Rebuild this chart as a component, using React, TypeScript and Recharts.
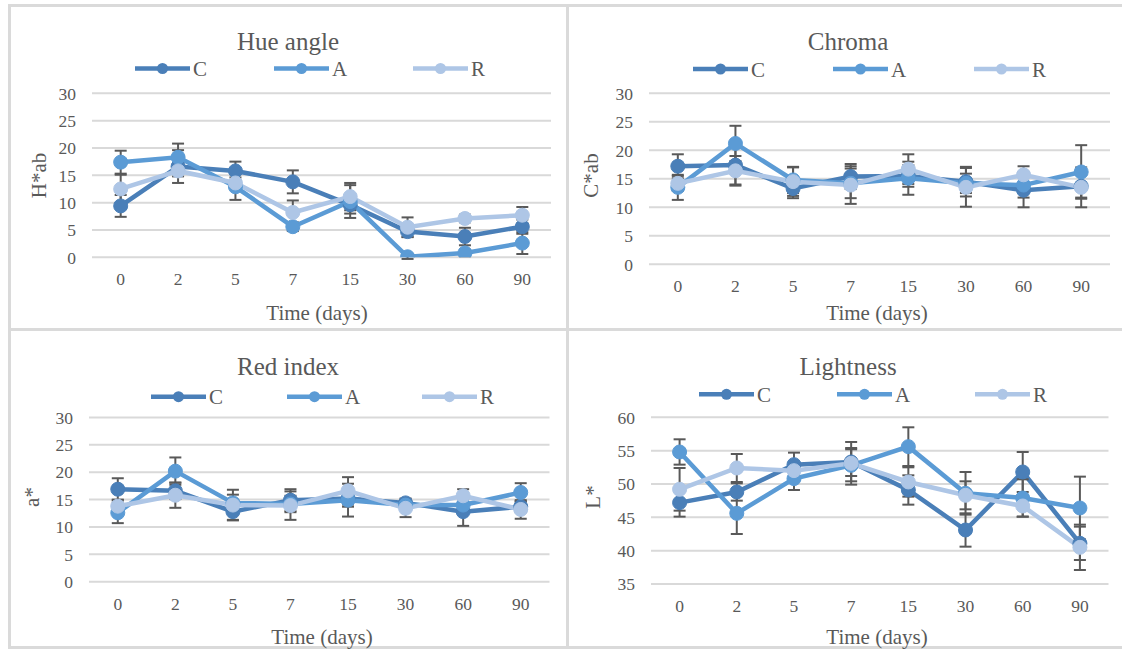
import { LineChart, Line, XAxis, YAxis, CartesianGrid, ErrorBar } from "recharts";

// sampling days
const days = ["0", "2", "5", "7", "15", "30", "60", "90"];

// Hue angle (H*ab)
const hueC = [9.4, 16.6, 15.8, 13.8, 9.6, 4.7, 3.8, 5.6];
const hueA = [17.4, 18.3, 12.9, 5.6, 10.2, 0.1, 0.8, 2.6];
const hueR = [12.5, 15.8, 13.6, 8.2, 11.1, 5.5, 7.1, 7.7];
const hueCErr = [2.0, 3.0, 1.7, 2.1, 1.6, 1.0, 1.6, 1.3];
const hueAErr = [2.1, 2.5, 2.4, 0.8, 3.0, 0.4, 0.6, 2.0];
const hueRErr = [2.6, 1.0, 1.0, 2.2, 2.5, 1.8, 0.7, 1.5];

// Chroma (C*ab)
const chromaC = [17.2, 17.4, 13.3, 15.4, 15.5, 14.5, 13.0, 13.7];
const chromaA = [13.5, 21.2, 14.8, 14.2, 15.1, 14.2, 13.9, 16.2];
const chromaR = [14.2, 16.4, 14.5, 13.9, 16.7, 13.5, 15.7, 13.5];
const chromaCErr = [2.1, 3.4, 1.7, 2.2, 1.9, 2.6, 3.0, 2.0];
const chromaAErr = [2.2, 3.1, 2.3, 2.6, 2.9, 1.7, 2.2, 4.7];
const chromaRErr = [1.3, 2.6, 2.5, 3.3, 2.6, 3.4, 1.5, 3.5];

// Red index (a*)
const redC = [16.9, 16.6, 12.8, 14.9, 15.2, 14.4, 12.8, 13.7];
const redA = [12.6, 20.2, 14.4, 14.2, 14.9, 14.0, 14.0, 16.3];
const redR = [13.8, 15.8, 14.0, 13.9, 16.6, 13.4, 15.7, 13.2];
const redCErr = [2.0, 1.5, 1.5, 2.0, 1.5, 0.8, 2.6, 1.0];
const redAErr = [1.9, 2.5, 1.5, 1.5, 3.0, 0.8, 1.2, 1.7];
const redRErr = [1.2, 2.3, 2.8, 2.6, 2.5, 1.6, 1.2, 1.7];

// Lightness (L*)
const lightC = [47.2, 48.8, 52.9, 53.3, 49.1, 43.1, 51.8, 41.1];
const lightA = [54.8, 45.6, 50.8, 52.8, 55.6, 48.6, 47.9, 46.4];
const lightR = [49.2, 52.4, 52.0, 53.1, 50.3, 48.3, 46.7, 40.5];
const lightCErr = [2.1, 1.3, 1.8, 2.1, 2.2, 2.5, 3.0, 2.5];
const lightAErr = [1.9, 3.1, 1.7, 2.4, 2.9, 3.2, 2.8, 4.7];
const lightRErr = [3.2, 2.1, 1.0, 3.2, 2.2, 2.1, 1.6, 3.4];

const ticks0to30 = [0, 5, 10, 15, 20, 25, 30];
const ticks35to60 = [35, 40, 45, 50, 55, 60];

const SERIES = [
  { key: "C", color: "#4a7fb8" },
  { key: "A", color: "#5b9bd5" },
  { key: "R", color: "#aec6e6" },
];

const FONT = '"Liberation Serif", serif';
const TEXT = "#595959";
const BORDER = "#dadada";
const Y_W = 40;
const X_H = 30;

type Panel = {
  title: string;
  yTitle: string;
  domain: [number, number];
  ticks: number[];
  values: number[][];
  errors: number[][];
  box: { x: number; y: number; w: number; h: number };
  plot: { l: number; r: number; t: number; b: number };
  titleAt: [number, number];
  legendY: number;
  legendX: number[];
  yTitleAt: [number, number];
  xTitleAt: [number, number];
};

const panels: Panel[] = [
  {
    title: "Hue angle",
    yTitle: "H*ab",
    domain: [0, 30],
    ticks: ticks0to30,
    values: [hueC, hueA, hueR],
    errors: [hueCErr, hueAErr, hueRErr],
    box: { x: 9, y: 6, w: 558, h: 322 },
    plot: { l: 92, r: 551, t: 93.3, b: 257.3 },
    titleAt: [288, 50],
    legendY: 68.5,
    legendX: [135, 274, 413],
    yTitleAt: [39, 175.5],
    xTitleAt: [317, 320],
  },
  {
    title: "Chroma",
    yTitle: "C*ab",
    domain: [0, 30],
    ticks: ticks0to30,
    values: [chromaC, chromaA, chromaR],
    errors: [chromaCErr, chromaAErr, chromaRErr],
    box: { x: 569, y: 6, w: 553, h: 322 },
    plot: { l: 649, r: 1110, t: 93.3, b: 264.3 },
    titleAt: [848, 50],
    legendY: 69,
    legendX: [693, 833, 974],
    yTitleAt: [591, 175.5],
    xTitleAt: [877, 320],
  },
  {
    title: "Red index",
    yTitle: "a*",
    domain: [0, 30],
    ticks: ticks0to30,
    values: [redC, redA, redR],
    errors: [redCErr, redAErr, redRErr],
    box: { x: 9, y: 330, w: 558, h: 316 },
    plot: { l: 89, r: 549.5, t: 417.5, b: 581.7 },
    titleAt: [288, 375],
    legendY: 396.7,
    legendX: [151, 287, 422],
    yTitleAt: [32, 497],
    xTitleAt: [322, 644],
  },
  {
    title: "Lightness",
    yTitle: "L*",
    domain: [35, 60],
    ticks: ticks35to60,
    values: [lightC, lightA, lightR],
    errors: [lightCErr, lightAErr, lightRErr],
    box: { x: 569, y: 330, w: 553, h: 316 },
    plot: { l: 651, r: 1108.5, t: 417.3, b: 584 },
    titleAt: [848, 375],
    legendY: 394.3,
    legendX: [699, 837, 975],
    yTitleAt: [593, 497],
    xTitleAt: [877, 644],
  },
];

function buildRows(p: Panel) {
  return days.map((day, i) => {
    const row: Record<string, number | string> = { day };
    SERIES.forEach((s, k) => {
      row[s.key] = p.values[k][i];
      row[s.key + "Err"] = p.errors[k][i];
    });
    return row;
  });
}

function ColourChart({ p }: { p: Panel }) {
  const { box, plot } = p;
  const band = (plot.r - plot.l) / days.length;
  const margin = {
    top: plot.t - box.y,
    left: plot.l - box.x - Y_W,
    right: box.x + box.w - plot.r,
    bottom: box.y + box.h - plot.b - X_H,
  };
  const tickStyle = { fontFamily: FONT, fontSize: 17.5, fill: TEXT, style: { fontFamily: FONT } };

  return (
    <div style={{ position: "absolute", left: box.x, top: box.y, fontFamily: FONT }}>
      <LineChart width={box.w} height={box.h} data={buildRows(p)} margin={margin} style={{ fontFamily: FONT }}>
        <CartesianGrid vertical={false} stroke="#d9d9d9" strokeWidth={2} />
        <XAxis
          dataKey="day"
          type="category"
          height={X_H}
          axisLine={false}
          tickLine={false}
          tickSize={0}
          tickMargin={15.5}
          padding={{ left: band / 2, right: band / 2 }}
          tick={tickStyle}
          interval={0}
        />
        <YAxis
          width={Y_W}
          domain={p.domain}
          ticks={p.ticks}
          allowDataOverflow
          axisLine={false}
          tickLine={false}
          tickSize={0}
          tickMargin={16}
          tick={tickStyle}
        />
        {SERIES.map((s) => (
          <Line
            key={s.key}
            dataKey={s.key}
            stroke={s.color}
            strokeWidth={4.5}
            dot={{ r: 7, fill: s.color, stroke: s.color, strokeWidth: 1 }}
            activeDot={false}
            isAnimationActive={false}
          >
            <ErrorBar dataKey={s.key + "Err"} direction="y" width={6} stroke="#595959" strokeWidth={2} />
          </Line>
        ))}
      </LineChart>
    </div>
  );
}

function PanelText({ p }: { p: Panel }) {
  const txt = { fontFamily: FONT, fill: TEXT };
  return (
    <g>
      <text x={p.titleAt[0]} y={p.titleAt[1]} fontSize={25} textAnchor="middle" style={txt}>
        {p.title}
      </text>
      {SERIES.map((s, k) => {
        const x = p.legendX[k];
        return (
          <g key={s.key}>
            <line x1={x} x2={x + 55} y1={p.legendY} y2={p.legendY} stroke={s.color} strokeWidth={4.5} />
            <circle cx={x + 27.5} cy={p.legendY} r={5.5} fill={s.color} />
            <text x={x + 58} y={p.legendY + 7.5} fontSize={21} style={txt}>
              {s.key}
            </text>
          </g>
        );
      })}
      <text
        x={p.yTitleAt[0]}
        y={p.yTitleAt[1]}
        dy="0.35em"
        fontSize={21}
        textAnchor="middle"
        style={txt}
        transform={`rotate(-90 ${p.yTitleAt[0]} ${p.yTitleAt[1]})`}
      >
        {p.yTitle}
      </text>
      <text x={p.xTitleAt[0]} y={p.xTitleAt[1]} fontSize={21} textAnchor="middle" style={txt}>
        Time (days)
      </text>
    </g>
  );
}

export default function App() {
  const line = (left: number, top: number, width: number, height: number) => (
    <div style={{ position: "absolute", left, top, width, height, background: BORDER }} />
  );
  return (
    <div
      style={{
        position: "absolute",
        left: 0,
        top: 0,
        width: 1122,
        height: 653,
        overflow: "hidden",
        background: "#ffffff",
        fontFamily: FONT,
      }}
    >
      {line(7.5, 4.2, 1115, 3)}
      {line(7.5, 4.2, 3, 644)}
      {line(7.5, 645.5, 1115, 3)}
      {line(566.2, 4.2, 3, 644)}
      {line(7.5, 327.5, 1115, 3)}
      {panels.map((p) => (
        <ColourChart key={p.title} p={p} />
      ))}
      <svg width={1122} height={653} style={{ position: "absolute", left: 0, top: 0, pointerEvents: "none" }}>
        {panels.map((p) => (
          <PanelText key={p.title} p={p} />
        ))}
      </svg>
    </div>
  );
}
